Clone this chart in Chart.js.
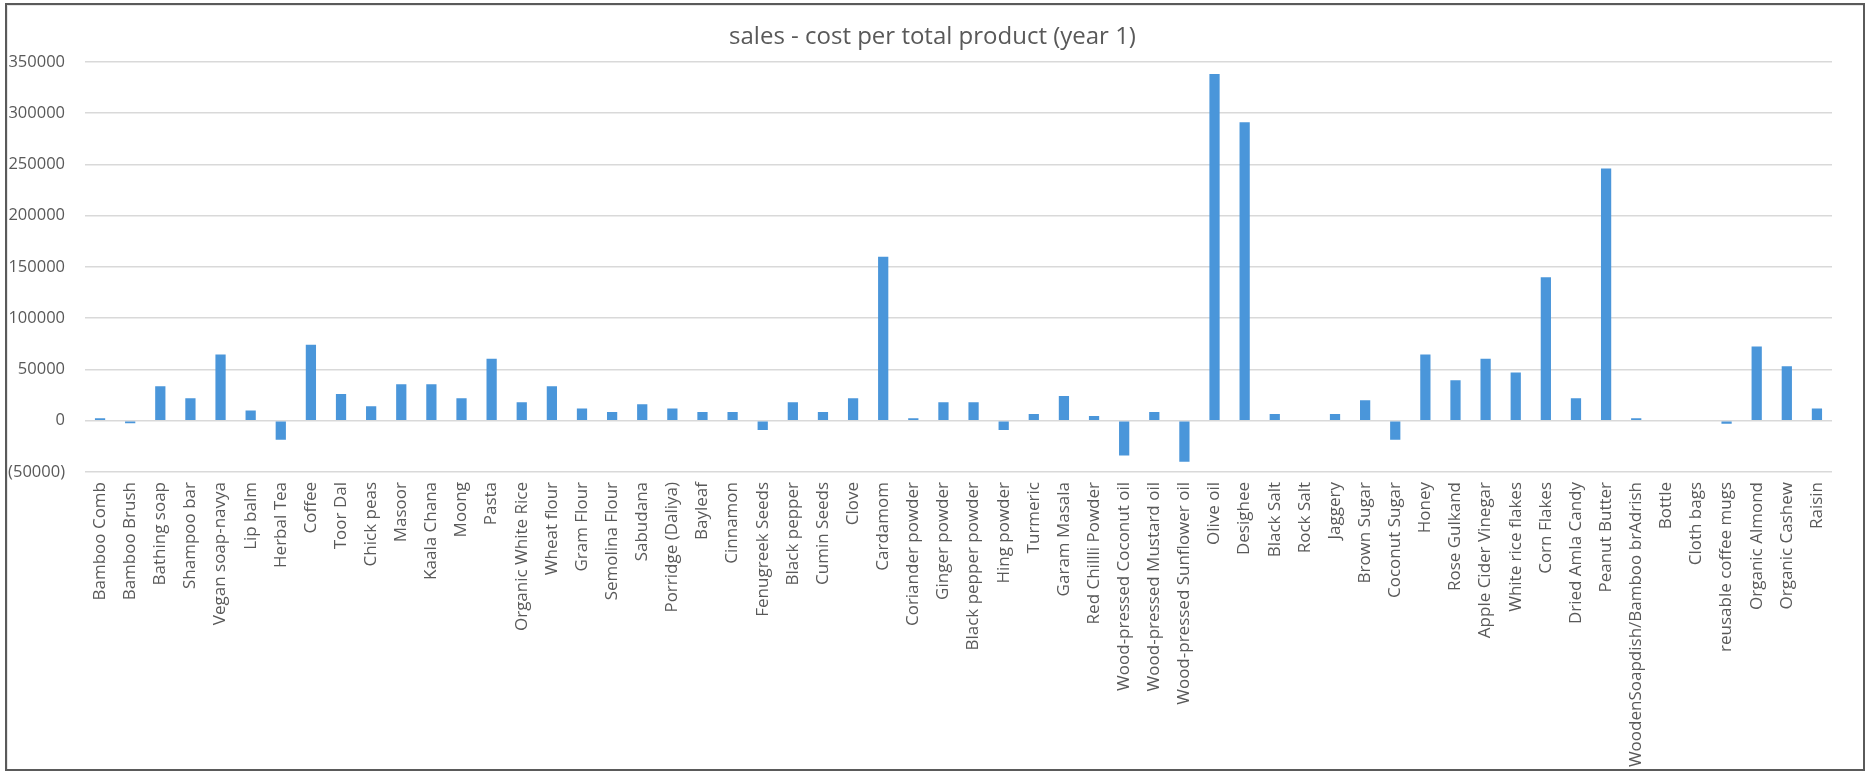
<!DOCTYPE html>
<html>
<head>
<meta charset="utf-8">
<script src="https://cdn.jsdelivr.net/npm/chart.js@4.4.0/dist/chart.umd.min.js"></script>
<style>
  html, body { margin: 0; padding: 0; background: #fff; }
  .wrap { position: relative; width: 1865px; height: 771px; }
  .frame {
    position: absolute; left: 5px; top: 3px; width: 1856px; height: 764px;
    border: 2px solid #5a5a5a; box-shadow: inset 1px 1px 0 #e6e6e6; pointer-events: none;
  }
  canvas { position: absolute; left: 0; top: 0; }
</style>
</head>
<body>
<div class="wrap">
  <canvas id="myChart" width="1865" height="771"></canvas>
  <div class="frame"></div>
</div>
<script>
'use strict';
// product names along the x axis
const products = [
	'Bamboo Comb', 'Bamboo Brush', 'Bathing soap', 'Shampoo bar', 'Vegan soap-navya',
	'Lip balm', 'Herbal Tea', 'Coffee', 'Toor Dal', 'Chick peas', 'Masoor', 'Kaala Chana',
	'Moong', 'Pasta', 'Organic White Rice', 'Wheat flour', 'Gram Flour', 'Semolina Flour',
	'Sabudana', 'Porridge (Daliya)', 'Bayleaf', 'Cinnamon', 'Fenugreek Seeds', 'Black pepper',
	'Cumin Seeds', 'Clove', 'Cardamom', 'Coriander powder', 'Ginger powder',
	'Black pepper powder', 'Hing powder', 'Turmeric', 'Garam Masala', 'Red Chillli Powder',
	'Wood-pressed Coconut oil', 'Wood-pressed Mustard oil', 'Wood-pressed Sunflower oil',
	'Olive oil', 'Desighee', 'Black Salt', 'Rock Salt', 'Jaggery', 'Brown Sugar',
	'Coconut Sugar', 'Honey', 'Rose Gulkand', 'Apple Cider Vinegar', 'White rice flakes',
	'Corn Flakes', 'Dried Amla Candy', 'Peanut Butter', 'WoodenSoapdish/Bamboo brAdrish',
	'Bottle', 'Cloth bags', 'reusable coffee mugs', 'Organic Almond', 'Organic Cashew', 'Raisin'
];

// sales - cost, year 1
const profit = [
	2500, -2500, 33500, 22000, 64500,
	10000, -18500, 74000, 26000, 14000, 35500, 35500,
	22000, 60500, 18000, 33500, 12000, 8500,
	16000, 12000, 8500, 8500, -9000, 18000,
	8500, 22000, 160000, 2500, 18000,
	18000, -9000, 6500, 24000, 4500,
	-34000, 8500, -40000,
	338000, 291000, 6500, 0, 6500, 20000,
	-18500, 64500, 39500, 60500, 47000,
	140000, 22000, 246000, 2500,
	0, 0, -3000, 72500, 53000, 12000
];

const yTicks = { min: -50000, max: 350000, step: 50000 };

const textColor = '#595959';
const gridColor = '#d9d9d9';
const barColor = '#4a96da';

const ctx = document.getElementById('myChart');

const chart = new Chart(ctx, {
	type: 'bar',
	data: {
		labels: products,
		datasets: [
			{
				label: 'sales - cost',
				data: profit,
				backgroundColor: barColor,
				borderWidth: 0,
				barPercentage: 0.34,
				categoryPercentage: 1,
			},
		],
	},
	options: {
		responsive: false,
		animation: false,
		layout: {
			padding: 0,
		},
		plugins: {
			legend: { display: false },
			tooltip: { enabled: false },
			title: {
				display: true,
				text: 'sales - cost per total product (year 1)',
				color: textColor,
				font: { family: 'Open Sans', size: 24, weight: 'normal' },
				padding: { top: 23, bottom: 10 },
			},
		},
		scales: {
			x: {
				grid: { display: false, drawTicks: false },
				border: { display: false },
				ticks: {
					color: textColor,
					font: { family: 'Open Sans', size: 17 },
					autoSkip: false,
					minRotation: 90,
					maxRotation: 90,
					padding: 10,
				},
				afterFit: (scale) => {
					scale.height = 299;
				},
			},
			y: {
				min: yTicks.min,
				max: yTicks.max,
				grid: { color: gridColor, lineWidth: 1.5, drawTicks: false },
				border: { display: false },
				ticks: {
					stepSize: yTicks.step,
					color: textColor,
					font: { family: 'Open Sans', size: 16.5 },
					padding: 20,
					callback: (v) => (v < 0 ? '(' + Math.abs(v) + ')' : v),
				},
				afterFit: (scale) => {
					scale.width = 85;
				},
			},
			// empty right gutter so the title stays centred on the whole frame
			gutter: {
				position: 'right',
				grid: { display: false, drawTicks: false },
				border: { display: false },
				ticks: { display: false },
				afterFit: (scale) => {
					scale.width = 33;
				},
			},
		},
	},
});
</script>
</body>
</html>
